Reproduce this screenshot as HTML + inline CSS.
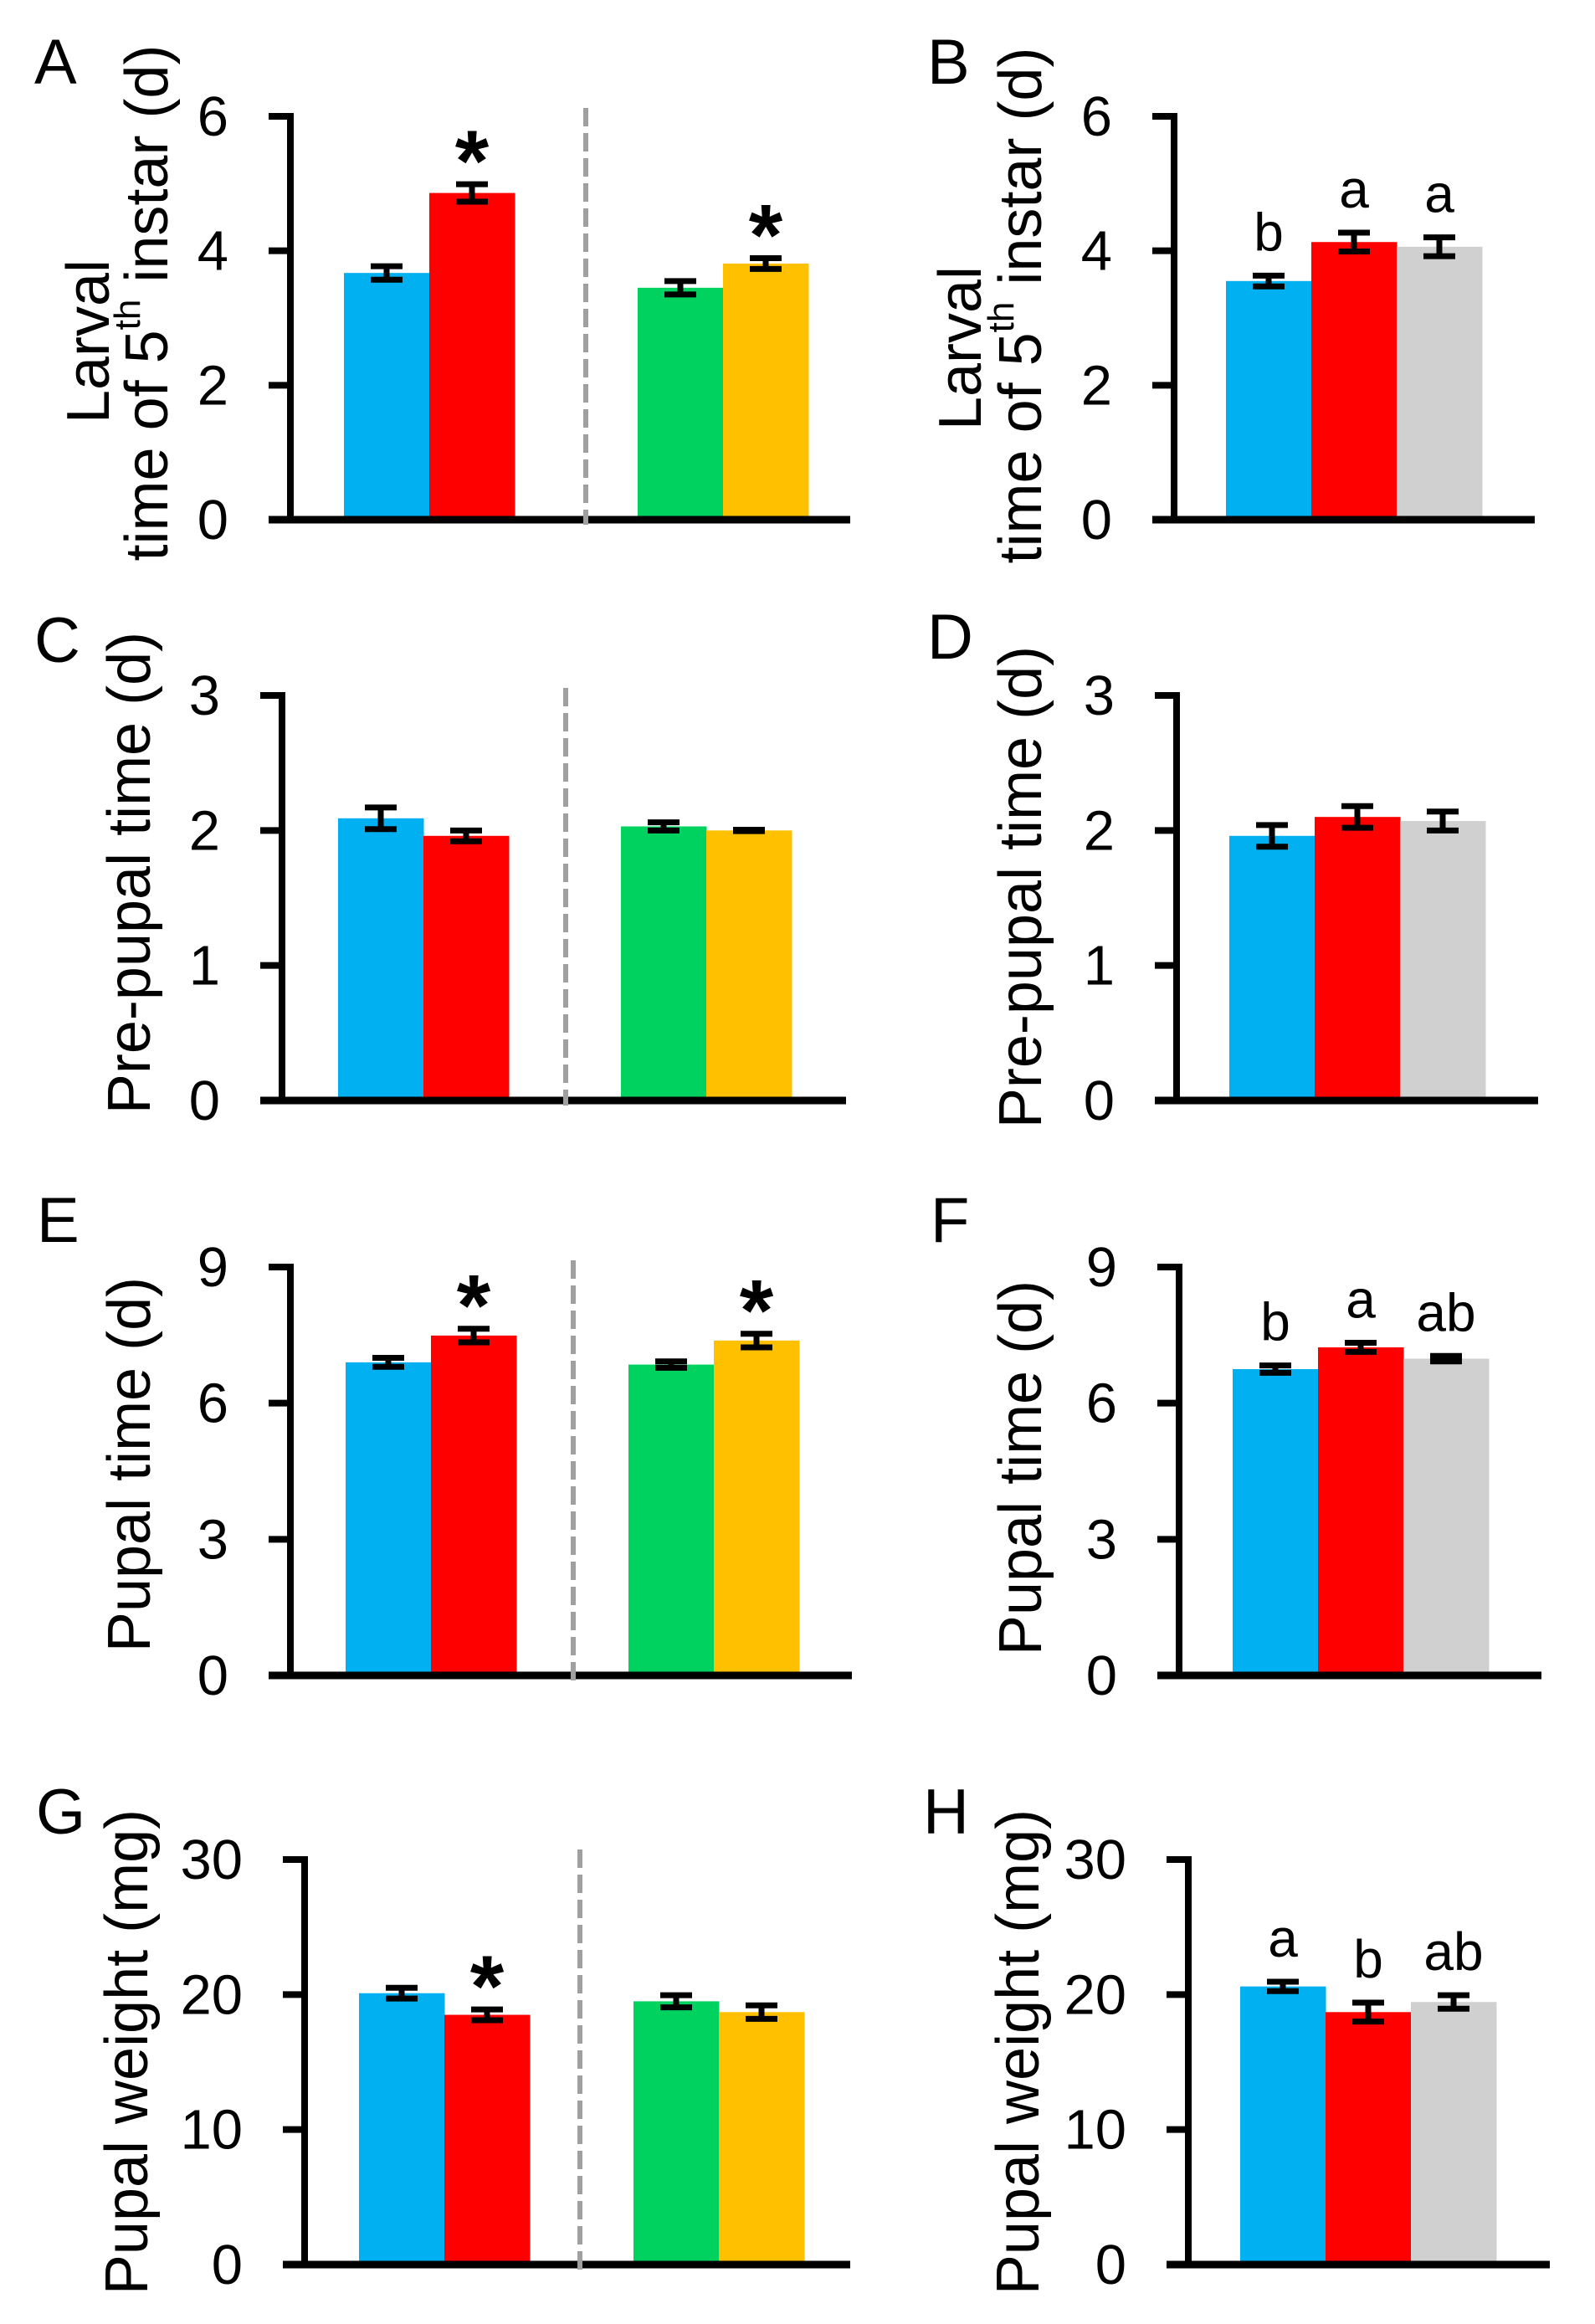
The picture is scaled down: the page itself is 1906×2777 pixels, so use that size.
<!DOCTYPE html>
<html><head><meta charset="utf-8">
<style>
html,body{margin:0;padding:0;background:#fff;}
svg{display:block;font-family:"Liberation Sans",Arial,sans-serif;}
</style></head>
<body>
<svg id="fig" width="1906" height="2777" viewBox="0 0 1906 2777" xmlns="http://www.w3.org/2000/svg"></svg>
<script>
// ---- data ----
const categories4 = ['ctrl-blue','trt-red','ctrl-green','trt-yellow'];
const categories3 = ['blue','red','gray'];
const valsA = [3.67, 4.86, 3.45, 3.81];
const errA  = [0.10, 0.13, 0.10, 0.08];
const sigA  = ['', '*', '', '*'];
const valsB = [3.55, 4.13, 4.06];
const errB  = [0.08, 0.14, 0.14];
const sigB  = ['b', 'a', 'a'];
const valsC = [2.09, 1.96, 2.03, 2.00];
const errC  = [0.08, 0.04, 0.03, 0.005];
const sigC  = ['', '', '', ''];
const valsD = [1.96, 2.10, 2.07];
const errD  = [0.08, 0.08, 0.07];
const sigD  = ['', '', ''];
const valsE = [6.90, 7.49, 6.85, 7.38];
const errE  = [0.10, 0.15, 0.07, 0.15];
const sigE  = ['', '*', '', '*'];
const valsF = [6.75, 7.23, 6.98];
const errF  = [0.08, 0.10, 0.06];
const sigF  = ['b', 'a', 'ab'];
const valsG = [20.1, 18.5, 19.5, 18.7];
const errG  = [0.4, 0.4, 0.45, 0.5];
const sigG  = ['', '*', '', ''];
const valsH = [20.6, 18.7, 19.45];
const errH  = [0.35, 0.7, 0.5];
const sigH  = ['a', 'b', 'ab'];
const ticks6 = [0, 2, 4, 6];
const ticks3 = [0, 1, 2, 3];
const ticks9 = [0, 3, 6, 9];
const ticks30 = [0, 10, 20, 30];

const colors4 = ['#00b0f0', '#ff0000', '#00d25f', '#ffc000'];
const colors3 = ['#00b0f0', '#ff0000', '#d0d0d0'];

// ---- layout ----
const panels = [
 {id:'A', vals:valsA, errs:errA, sig:sigA, ticks:ticks6, ax:347, top:139, zero:621, xEnd:1016, b0:411, g2:762, dash:700, dashTop:129, title:['Larval','time of 5|th| instar (d)'], tx:[106,176], ty:[408,362], lx:41, ly:100},
 {id:'B', vals:valsB, errs:errB, sig:sigB, ticks:ticks6, ax:1403, top:139, zero:621, xEnd:1834, b0:1465, title:['Larval','time of 5|th| instar (d)'], tx:[1148,1220], ty:[416,365], lx:1108, ly:100},
 {id:'C', vals:valsC, errs:errC, sig:sigC, ticks:ticks3, ax:337, top:831, zero:1315, xEnd:1011, b0:404, g2:742, dash:676, dashTop:822, title:['Pre-pupal time (d)'], tx:[155], ty:[1043], lx:41, ly:791},
 {id:'D', vals:valsD, errs:errD, sig:sigD, ticks:ticks3, ax:1406, top:831, zero:1315, xEnd:1838, b0:1469, title:['Pre-pupal time (d)'], tx:[1220], ty:[1060], lx:1108, ly:787},
 {id:'E', vals:valsE, errs:errE, sig:sigE, ticks:ticks9, ax:347, top:1514, zero:2002, xEnd:1018, b0:413, g2:751, dash:685, dashTop:1506, title:['Pupal time (d)'], tx:[155], ty:[1750], lx:44, ly:1484},
 {id:'F', vals:valsF, errs:errF, sig:sigF, ticks:ticks9, ax:1409, top:1514, zero:2002, xEnd:1842, b0:1473, title:['Pupal time (d)'], tx:[1220], ty:[1754], lx:1112, ly:1484},
 {id:'G', vals:valsG, errs:errG, sig:sigG, ticks:ticks30, ax:364, top:2222, zero:2706, xEnd:1016, b0:429, g2:757, dash:693, dashTop:2210, title:['Pupal weight (mg)'], tx:[152], ty:[2452], lx:43, ly:2191},
 {id:'H', vals:valsH, errs:errH, sig:sigH, ticks:ticks30, ax:1420, top:2222, zero:2706, xEnd:1852, b0:1482, title:['Pupal weight (mg)'], tx:[1217], ty:[2452], lx:1103, ly:2191}
];
const BW = 102;
const NS = 'http://www.w3.org/2000/svg';
const svg = document.getElementById('fig');
function mk(tag, attrs, parent){
  const e = document.createElementNS(NS, tag);
  for (const k in attrs) e.setAttribute(k, attrs[k]);
  (parent||svg).appendChild(e);
  return e;
}

panels.forEach(p => {
  const g = mk('g', {});
  
  
  const maxV = p.ticks[p.ticks.length-1];
  const y = v => p.zero - v / maxV * (p.zero - p.top);
  const four = p.vals.length === 4;
  const xs = four ? [p.b0, p.b0+BW, p.g2, p.g2+BW] : [p.b0, p.b0+BW, p.b0+2*BW];
  const cols = four ? colors4 : colors3;

  // bars
  p.vals.forEach((v, i) => {
    const r = mk('rect', {x: xs[i], y: y(v), width: BW+0.5, height: p.zero - y(v), fill: cols[i]}, g);
    
    
  });
  // error bars
  p.vals.forEach((v, i) => {
    const cx = xs[i] + BW/2;
    const yt = y(v + p.errs[i]), yb = y(v - p.errs[i]);
    const eg = mk('g', {stroke:'#000', 'stroke-width':7}, g);
    
    
    mk('line', {x1:cx, x2:cx, y1:yt, y2:yb}, eg);
    mk('line', {x1:cx-19, x2:cx+19, y1:yt, y2:yt}, eg);
    mk('line', {x1:cx-19, x2:cx+19, y1:yb, y2:yb}, eg);
    // significance
    const s = p.sig[i];
    if (s) {
      let t;
      if (s === '*') {
        t = mk('text', {x:cx, y:yt+8, 'text-anchor':'middle', 'font-size':104, 'font-weight':'bold', fill:'#000'}, g);
      } else {
        t = mk('text', {x:cx, y:yt-30, 'text-anchor':'middle', 'font-size':64, fill:'#000'}, g);
      }
      t.textContent = s;
      
      
    }
  });
  // axes
  const yl = mk('line', {x1:p.ax, x2:p.ax, y1:p.top-4, y2:p.zero+4, stroke:'#000', 'stroke-width':8}, g);
  
  
  const xl = mk('line', {x1:p.ax-26, x2:p.xEnd, y1:p.zero, y2:p.zero, stroke:'#000', 'stroke-width':9}, g);
  
  
  p.ticks.forEach(tv => {
    const ty = y(tv);
    if (tv !== 0) mk('line', {x1:p.ax-26, x2:p.ax, y1:ty, y2:ty, stroke:'#000', 'stroke-width':8}, g);
    const t = mk('text', {x:p.ax-74, y:ty+23, 'text-anchor':'end', 'font-size':67, fill:'#000'}, g);
    t.textContent = tv;
    
    
  });
  // dashed separator
  if (four) {
    const d = mk('line', {x1:p.dash, x2:p.dash, y1:p.dashTop, y2:p.zero+6, stroke:'#a0a0a0', 'stroke-width':6, 'stroke-dasharray':'22 8'}, g);
    
    
  }
  // y title
  p.title.forEach((line, k) => {
    const t = mk('text', {transform:'translate(' + p.tx[k] + ',' + p.ty[k] + ') rotate(-90)', 'text-anchor':'middle', 'dominant-baseline':'central', 'font-size':72, fill:'#000'}, g);
    const parts = line.split('|');
    parts.forEach((part, j) => {
      const ts = mk('tspan', {}, t);
      if (j === 1) { ts.setAttribute('font-size', 44); ts.setAttribute('dy', -24); }
      if (j === 2 && parts.length === 3) { ts.setAttribute('dy', 24); }
      ts.textContent = part;
    });
    
    
  });
  // panel letter
  const L = mk('text', {x:p.lx, y:p.ly, 'font-size':76, fill:'#000'}, g);
  L.textContent = p.id;
  
  
});
</script>
</body></html>
